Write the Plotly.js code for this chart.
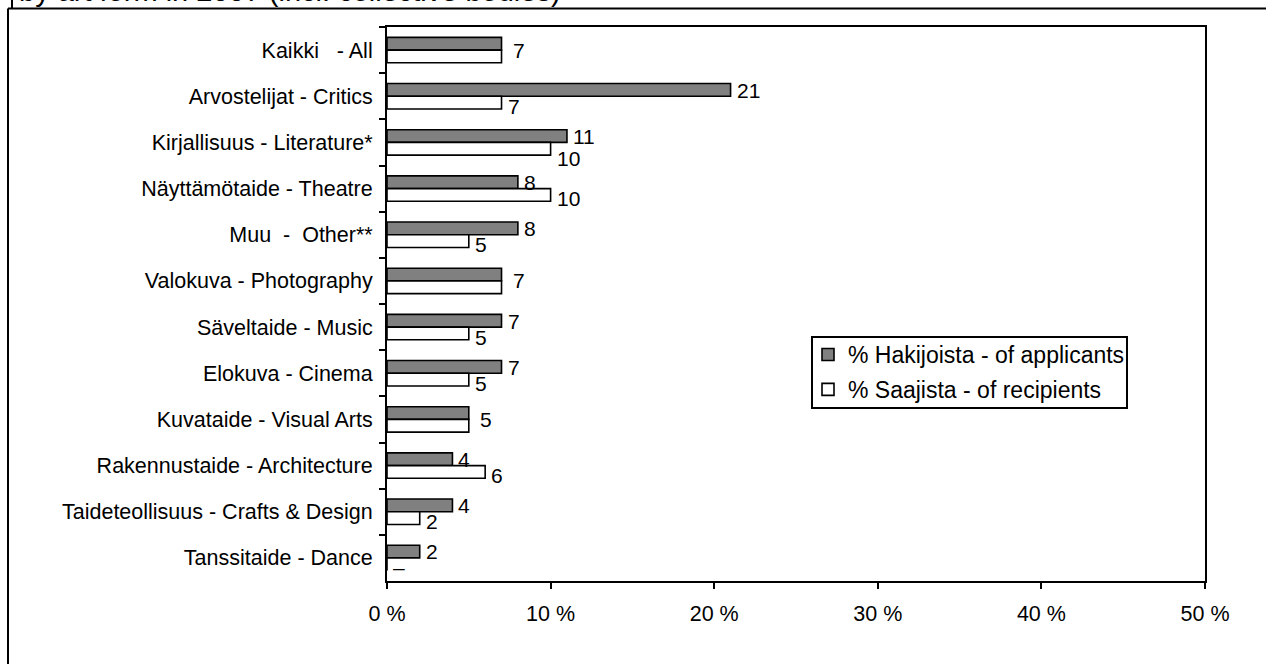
<!DOCTYPE html>
<html><head><meta charset="utf-8">
<script src="https://cdn.plot.ly/plotly-3.0.1.min.js"></script>
<style>html,body{margin:0;padding:0;background:#fff}#chart{width:1266px;height:664px}</style>
</head><body><div id="chart"></div>
<script>
const categories = ["Kaikki\u00a0\u00a0\u00a0- All","Arvostelijat - Critics","Kirjallisuus - Literature*","Näyttämötaide - Theatre","Muu\u00a0\u00a0-\u00a0\u00a0Other**","Valokuva - Photography","Säveltaide - Music","Elokuva - Cinema","Kuvataide - Visual Arts","Rakennustaide - Architecture","Taideteollisuus - Crafts & Design","Tanssitaide - Dance"];
const applicants = [7,21,11,8,8,7,7,7,5,4,4,2];
const recipients = [7,7,10,10,5,7,5,5,5,6,2,0];
const seriesNames = ["% Hakijoista - of applicants","% Saajista - of recipients"];
const xTickValues = [0,10,20,30,40,50];
const xTickLabels = ["0 %","10 %","20 %","30 %","40 %","50 %"];
const titleText = "by art form in 2007 (incl. collective bodies)";

const W = 1266, H = 664, L = 387, R = 61, T = 27, B = 83;
const pw = W - L - R, ph = H - T - B;
const xp = px => (px - L) / pw;
const yp = py => (H - B - py) / ph;
const FONT = "Liberation Sans, Arial, sans-serif";

const traces = [
  {type:'bar', orientation:'h', name:seriesNames[0], legendgroup:'a', y:categories, x:applicants,
   marker:{color:'#808080', line:{color:'#000', width:1.6}}, hoverinfo:'none'},
  {type:'bar', orientation:'h', name:seriesNames[1], legendgroup:'b', y:categories, x:recipients,
   marker:{color:'#ffffff', line:{color:'#000', width:1.6}}, hoverinfo:'none'}
];

const annotations = [];
categories.forEach((c, i) => {
  const a = applicants[i], r = recipients[i], same = a === r;
  const close = Math.abs(a - r) === 1;
  annotations.push({x:a, y:c, xref:'x', yref:'y', text:String(a), showarrow:false,
    xanchor:'left', yanchor:'middle', xshift: same ? 9 : 4, yshift: same ? 0 : 6,
    font:{family:FONT, size:21, color:'#000'}});
  if (!same) {
    annotations.push({x:r, y:c, xref:'x', yref:'y', text: r === 0 ? '\u2013' : String(r), showarrow:false,
      xanchor:'left', yanchor:'middle', xshift:4, yshift: close ? -16 : -10,
      font:{family:FONT, size:21, color:'#000'}});
  }
});
annotations.push({xref:'paper', yref:'paper', x:xp(17), y:yp(-9), xanchor:'left', yanchor:'middle',
  text:titleText, showarrow:false, font:{family:FONT, size:29, color:'#000'}});

const shapes = [
  {type:'line', xref:'paper', yref:'paper', x0:xp(8), x1:xp(1280), y0:yp(8.5), y1:yp(8.5), line:{color:'#000', width:2}},
  {type:'line', xref:'paper', yref:'paper', x0:xp(8), x1:xp(8), y0:yp(8.5), y1:yp(680), line:{color:'#000', width:2}},
  {type:'line', xref:'paper', yref:'paper', x0:xp(12), x1:xp(12), y0:yp(-5), y1:yp(8.5), line:{color:'#000', width:2}},
  {type:'rect', xref:'paper', yref:'paper', x0:xp(812), x1:xp(1127), y0:yp(408), y1:yp(337),
   fillcolor:'#fff', line:{color:'#000', width:2}, layer:'above'}
];

const layout = {
  width:W, height:H, margin:{l:L, r:R, t:T, b:B, pad:0},
  paper_bgcolor:'#fff', plot_bgcolor:'#fff',
  font:{family:FONT, size:21, color:'#000'},
  barmode:'group', bargap:0.45, bargroupgap:0,
  showlegend:true,
  xaxis:{range:[0,50], tickmode:'array', tickvals:xTickValues, ticktext:xTickLabels,
    ticks:'outside', ticklen:6, tickwidth:2, tickcolor:'#000', ticklabelstandoff:6,
    showline:true, linewidth:2, linecolor:'#000', mirror:true, showgrid:false, zeroline:false,
    tickfont:{family:FONT, size:21.5, color:'#000'}},
  yaxis:{type:'category', autorange:'reversed', tickson:'boundaries',
    ticks:'outside', ticklen:6, tickwidth:2, tickcolor:'#000', ticklabelstandoff:8,
    showline:true, linewidth:2, linecolor:'#000', mirror:true, showgrid:false, zeroline:false,
    tickfont:{family:FONT, size:21.5, color:'#000'}},
  legend:{x:xp(808), y:yp(333), xanchor:'left', yanchor:'top', bgcolor:'rgba(0,0,0,0)',
    borderwidth:0, font:{family:FONT, size:23, color:'#000'},
    itemwidth:30, tracegroupgap:2, traceorder:'grouped'},
  annotations:annotations, shapes:shapes
};

Plotly.newPlot('chart', traces, layout, {staticPlot:true, displayModeBar:false});
</script></body></html>
